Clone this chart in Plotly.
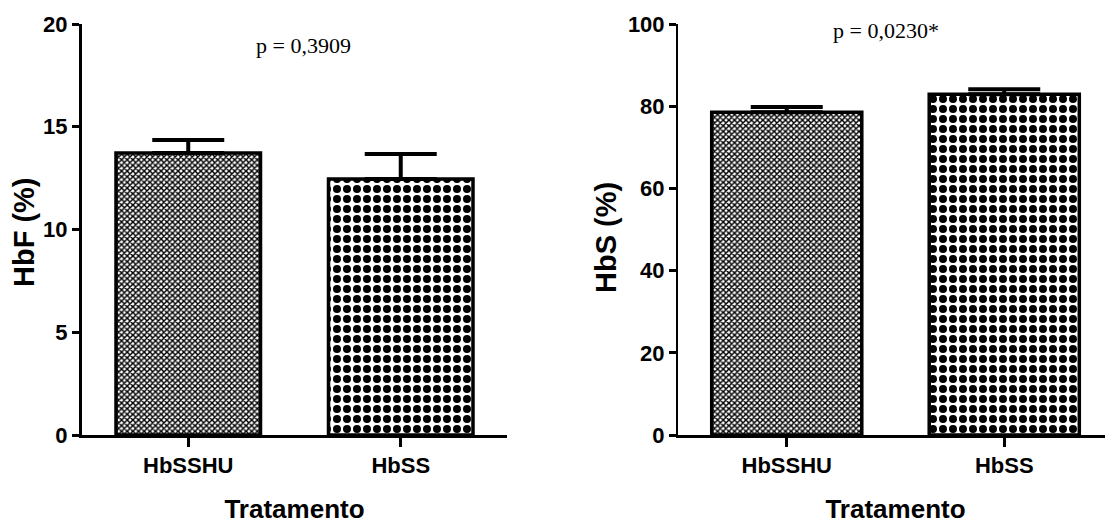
import plotly.graph_objects as go

categories = ["HbSSHU", "HbSS"]
hbf_mean = [13.72, 12.46]
hbf_sem = [0.64, 1.21]
hbs_mean = [78.5, 82.9]
hbs_sem = [1.3, 1.2]
p_left = "p = 0,3909"
p_right = "p = 0,0230*"

# page has an 8px body margin, so the figure is 8px smaller than the window
OFF = 8
W, H = 1113 - OFF, 526 - OFF
SANS = "Liberation Sans Narrow, Arial Narrow, Liberation Sans, Arial, sans-serif"
SERIF = "Liberation Serif, Times New Roman, serif"


def fx(px):
    return (px - OFF) / W


TOP, BOT = 24, 435  # page pixels of plot area top/bottom


def fy(py):
    return (BOT - py) / (BOT - TOP)


patterns = [
    dict(shape="x", size=4, solidity=0.6, fgcolor="black", bgcolor="white", fgopacity=1, fillmode="replace"),
    dict(shape=".", size=10, solidity=0.5, fgcolor="black", bgcolor="white", fgopacity=1, fillmode="replace"),
]

fig = go.Figure()

for i in range(2):
    fig.add_trace(go.Bar(
        x=[categories[i]], y=[hbf_mean[i]], xaxis="x", yaxis="y",
        width=0.68,
        marker=dict(color="white", pattern=patterns[i], line=dict(color="black", width=3.5)),
        error_y=dict(type="data", symmetric=False, array=[hbf_sem[i]], arrayminus=[0],
                     color="black", thickness=4, width=36),
        showlegend=False,
    ))
    fig.add_trace(go.Bar(
        x=[categories[i]], y=[hbs_mean[i]], xaxis="x2", yaxis="y2",
        width=0.69,
        marker=dict(color="white", pattern=patterns[i], line=dict(color="black", width=3.5)),
        error_y=dict(type="data", symmetric=False, array=[hbs_sem[i]], arrayminus=[0],
                     color="black", thickness=4, width=36),
        showlegend=False,
    ))

tickfont = dict(family=SANS, size=22, color="black", weight="bold")
catfont = dict(family=SANS, size=22, color="black", weight="bold")
titlefont = dict(family=SANS, size=26, color="black", weight="bold")

xcommon = dict(type="category", range=[-0.5, 1.5], showline=True, linecolor="black", linewidth=3,
               ticks="outside", ticklen=9, tickwidth=2.5, tickcolor="black",
               tickfont=catfont, showgrid=False, zeroline=False, fixedrange=True)
ycommon = dict(domain=[0, 1], showline=True, linecolor="black",
               ticks="outside", ticklen=7, tickwidth=3, tickcolor="black", tickfont=tickfont,
               showgrid=False, zeroline=False, fixedrange=True)

fig.update_layout(
    width=W, height=H,
    margin=dict(l=0, r=0, t=TOP - OFF, b=H - (BOT - OFF)),
    paper_bgcolor="white", plot_bgcolor="white",
    barmode="overlay",
    xaxis=dict(domain=[fx(82), fx(507)], anchor="y", **xcommon,
               title=dict(text="Tratamento", font=titlefont, standoff=23)),
    xaxis2=dict(domain=[fx(678), 1.0], anchor="y2", **xcommon,
                title=dict(text="Tratamento", font=titlefont, standoff=23)),
    yaxis=dict(anchor="x", range=[0, 20], dtick=5, linewidth=3, **ycommon),
    yaxis2=dict(anchor="x2", range=[0, 100], dtick=20, linewidth=2, **ycommon),
    annotations=[
        dict(text="HbF (%)", x=fx(24), y=fy(232), xref="paper", yref="paper", textangle=-90, showarrow=False,
             font=dict(family=SANS, size=29, color="black", weight="bold"), xanchor="center", yanchor="middle"),
        dict(text="HbS (%)", x=fx(606), y=fy(238), xref="paper", yref="paper", textangle=-90, showarrow=False,
             font=dict(family=SANS, size=29, color="black", weight="bold"), xanchor="center", yanchor="middle"),
        dict(text=p_left, x=fx(303), y=fy(45), xref="paper", yref="paper", showarrow=False,
             font=dict(family=SERIF, size=22, color="black"), xanchor="center", yanchor="middle"),
        dict(text=p_right, x=fx(886), y=fy(31), xref="paper", yref="paper", showarrow=False,
             font=dict(family=SERIF, size=22, color="black"), xanchor="center", yanchor="middle"),
    ],
)

fig.write_html("out.html")
